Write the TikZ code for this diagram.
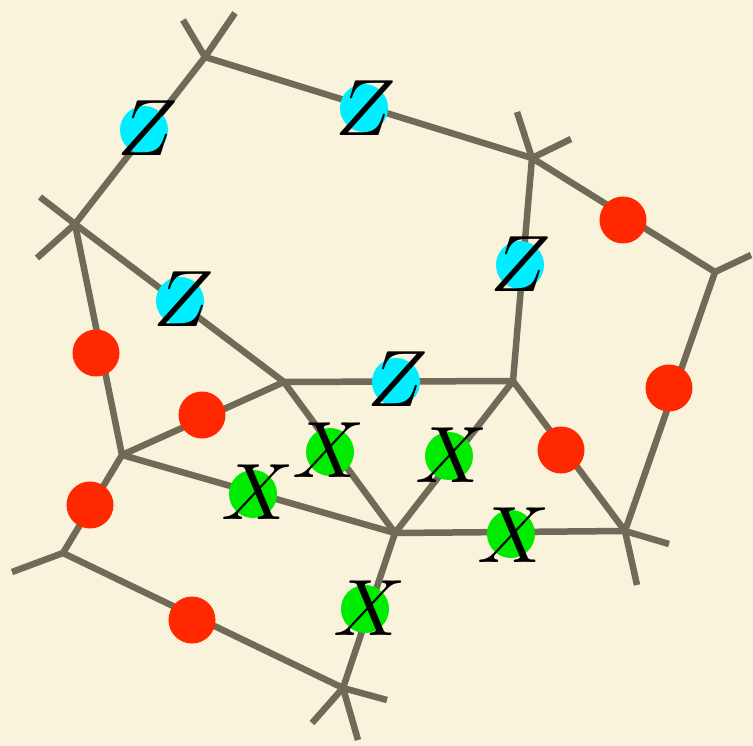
\documentclass[tikz,border=0pt]{standalone}
\usepackage{tikz}
\definecolor{bg}{RGB}{250,243,219}
\definecolor{edge}{RGB}{112,106,88}
\definecolor{redc}{RGB}{255,40,0}
\definecolor{cyanc}{RGB}{0,238,255}
\definecolor{greenc}{RGB}{0,235,0}
\tikzset{
  e/.style={draw=edge,line width=6.5pt},
  v/.style={coordinate},
  rd/.style={circle,fill=redc,minimum size=47pt,inner sep=0pt},
  cy/.style={circle,fill=cyanc,minimum size=48pt,inner sep=0pt},
  gr/.style={circle,fill=greenc,minimum size=48pt,inner sep=0pt},
  lab/.style={inner sep=0pt,scale=8}
}
\begin{document}
\begin{tikzpicture}[x=1pt,y=-1pt]
\fill[bg] (0,0) rectangle (753,746);
\useasboundingbox (0,0) rectangle (753,746);
% vertices
\node[v] (A) at (205,57) {};
\node[v] (B) at (75,224) {};
\node[v] (C) at (532,158) {};
\node[v] (D) at (715,272) {};
\node[v] (E) at (284,382) {};
\node[v] (F) at (513,381) {};
\node[v] (G) at (122,455) {};
\node[v] (H) at (395,533) {};
\node[v] (I) at (625,531) {};
\node[v] (J) at (63,553) {};
\node[v] (K) at (343,688) {};
% stub ends
\coordinate (a1) at (183,20);
\coordinate (a2) at (235,13);
\coordinate (b1) at (40,197);
\coordinate (b2) at (37,258);
\coordinate (c1) at (517,112);
\coordinate (c2) at (571,139);
\coordinate (d1) at (751,255);
\coordinate (i1) at (669,544);
\coordinate (i2) at (637,585);
\coordinate (j1) at (12,572);
\coordinate (k1) at (312,723);
\coordinate (k2) at (387,700);
\coordinate (k3) at (358,740);
% edges
\draw[e] (A) -- (B);
\draw[e] (A) -- (C);
\draw[e] (C) -- (D);
\draw[e] (D) -- (I);
\draw[e] (C) -- (F);
\draw[e] (B) -- (E);
\draw[e] (B) -- (G);
\draw[e] (E) -- (F);
\draw[e] (E) -- (G);
\draw[e] (E) -- (H);
\draw[e] (F) -- (H);
\draw[e] (F) -- (I);
\draw[e] (G) -- (H);
\draw[e] (H) -- (I);
\draw[e] (G) -- (J);
\draw[e] (J) -- (K);
\draw[e] (H) -- (K);
% stubs
\draw[e] (A) -- (a1);
\draw[e] (A) -- (a2);
\draw[e] (B) -- (b1);
\draw[e] (B) -- (b2);
\draw[e] (C) -- (c1);
\draw[e] (C) -- (c2);
\draw[e] (D) -- (d1);
\draw[e] (I) -- (i1);
\draw[e] (I) -- (i2);
\draw[e] (J) -- (j1);
\draw[e] (K) -- (k1);
\draw[e] (K) -- (k2);
\draw[e] (K) -- (k3);
% red circles
\node[rd] (r1) at (623,220) {};
\node[rd] (r2) at (669,388) {};
\node[rd] (r3) at (96,353) {};
\node[rd] (r4) at (202,415) {};
\node[rd] (r5) at (561,450) {};
\node[rd] (r6) at (90,505) {};
\node[rd] (r7) at (192,620) {};
% cyan circles with Z
\node[cy] (z1) at (144,130) {};
\node[cy] (z2) at (364,108) {};
\node[cy] (z3) at (520,265) {};
\node[cy] (z4) at (180,301) {};
\node[cy] (z5) at (396,382) {};
\node[lab] at (148,128) {$Z$};
\node[lab] at (366,108) {$Z$};
\node[lab] at (521,264) {$Z$};
\node[lab] at (184,299) {$Z$};
\node[lab] at (398,379) {$Z$};
% green circles with X
\node[gr] (x1) at (330,452) {};
\node[gr] (x2) at (449,456) {};
\node[gr] (x3) at (253,494) {};
\node[gr] (x4) at (511,534) {};
\node[gr] (x5) at (365,609) {};
\node[lab] at (329,450) {$X$};
\node[lab] at (452,455) {$X$};
\node[lab] at (258,492) {$X$};
\node[lab] at (514,535) {$X$};
\node[lab] at (370,608) {$X$};
\end{tikzpicture}
\end{document}
